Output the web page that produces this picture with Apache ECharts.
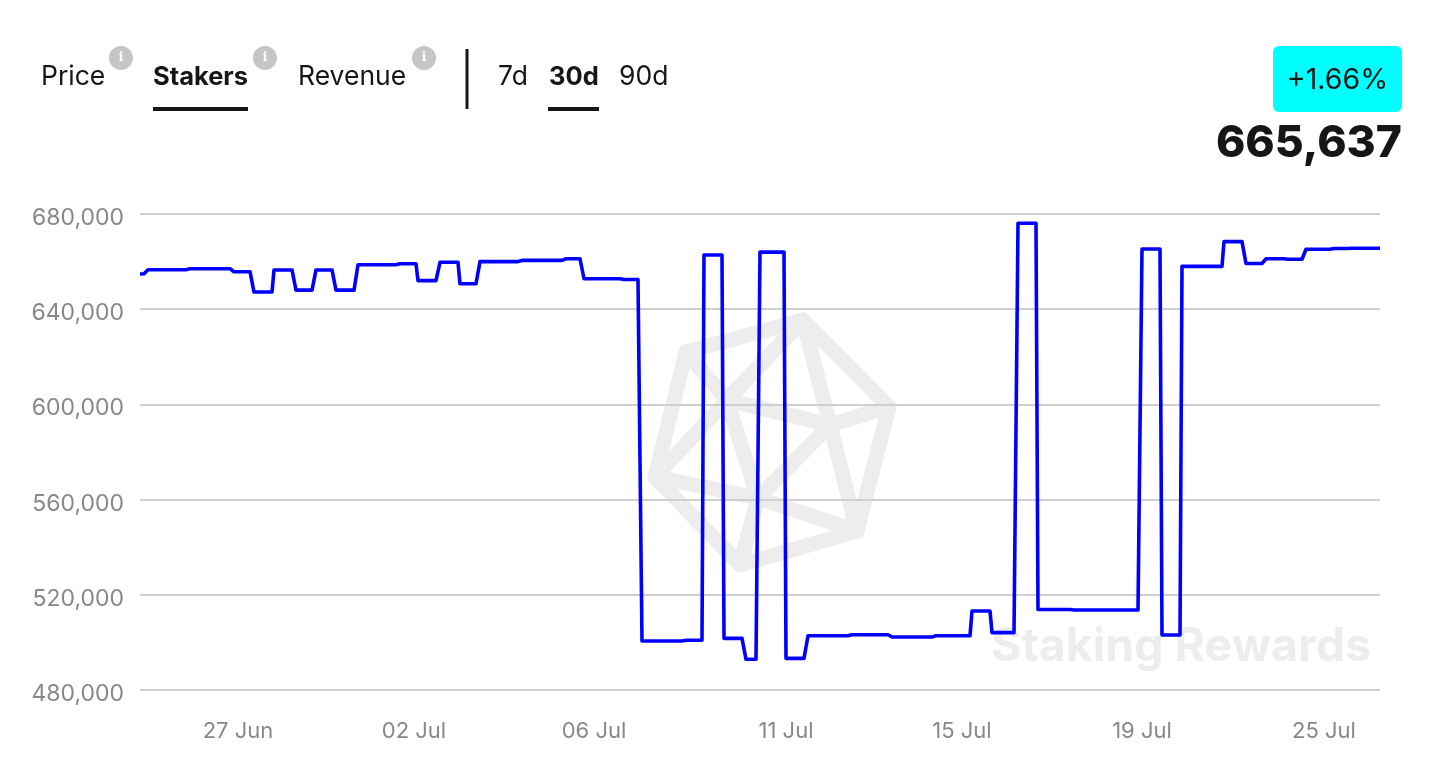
<!DOCTYPE html>
<html>
<head>
<meta charset="utf-8">
<style>html,body{margin:0;padding:0;background:#fff}#c{width:1448px;height:780px}</style>
<script src="https://cdn.jsdelivr.net/npm/echarts@6/dist/echarts.min.js"></script>
</head>
<body>
<div id="c"></div>
<script>
const sampleCount = 621;
const sampleIndex = [0,2,4,23,25,45,47,55,57,66,67,76,78,86,88,96,98,107,109,128,130,138,139,148,150,159,160,168,170,189,191,211,213,220,222,240,242,249,251,271,273,281,282,291,292,301,303,308,310,322,323,332,334,354,356,374,376,396,398,415,416,425,426,437,439,448,449,465,467,499,501,510,511,520,521,541,542,551,553,561,563,572,574,581,583,595,597,604,606,620];
const stakers = [654800,654900,656600,656600,657000,657000,655750,655750,647200,647200,656500,656500,648000,648000,656500,656500,648000,648000,658700,658700,659100,659100,652000,652000,659700,659700,650700,650700,660000,660000,660500,660500,661200,661200,652800,652800,652500,652500,500600,500600,500900,500900,662800,662800,501700,501700,492900,492900,664000,664000,493300,493300,502800,502800,503200,503200,502300,502300,502800,502800,513200,513200,504100,504100,676100,676100,513800,513800,513600,513600,665300,665300,503100,503100,658000,658000,668400,668400,659200,659200,661200,661200,661000,661000,665200,665200,665500,665500,665637,665637];
const tickLabels = ['27 Jun','02 Jul','06 Jul','11 Jul','15 Jul','19 Jul','25 Jul'];
const tickIndex = [49,137,227,323,411,501,592];
const tabs = ['Price','Stakers','Revenue'];
const ranges = ['7d','30d','90d'];
const changeText = '+1.66%';
const latestText = '665,637';
const watermarkText = 'Staking Rewards';

const categories = Array.from({length: sampleCount}, (_, i) => {
  const k = tickIndex.indexOf(i);
  return k >= 0 ? tickLabels[k] : 's' + i;
});
const INK = '#161616';
const FONT = 'Inter, "Noto Sans", sans-serif';
const txt = (text, x, y, o = {}) => ({
  type: 'text', x, y, z: 10, silent: true,
  style: Object.assign({text, fill: INK, font: '400 26.5px ' + FONT, verticalAlign: 'middle'}, o)
});
const rect = (x, y, width, height, fill, r = 0) => ({
  type: 'rect', z: 10, silent: true, shape: {x, y, width, height, r}, style: {fill}
});
const info = (cx) => [
  {type: 'circle', z: 10, silent: true, shape: {cx, cy: 58, r: 12}, style: {fill: '#c6c6c6'}},
  txt('i', cx, 58, {fill: '#fff', font: '700 13px "DejaVu Serif", serif', align: 'center'})
];
const A=[686,352],B=[803,320],C=[889,407],D=[857,531],E=[740,565],F=[655,477],P=[727,400],Q=[830,425],R=[758,498];
const logoLines = [[A,B,C,D,E,F,A],[A,P],[B,P],[F,P],[P,Q],[B,Q],[C,Q],[D,Q],[Q,R],[D,R],[E,R],[F,R],[P,R]];
const logo = logoLines.map(points => ({
  type: 'polyline', z: -1, silent: true, shape: {points},
  style: {stroke: '#ededed', lineWidth: 15, fill: null, lineJoin: 'round', lineCap: 'round'}
}));

const chart = echarts.init(document.getElementById('c'), null, {renderer: 'canvas'});
chart.setOption({
  animation: false,
  backgroundColor: '#fff',
  grid: {left: 140, right: 68, top: 214, bottom: 90, containLabel: false},
  xAxis: {
    type: 'category', data: categories, boundaryGap: false,
    axisLine: {show: false}, axisTick: {show: false}, splitLine: {show: false},
    axisLabel: {
      interval: (i) => tickIndex.indexOf(i) >= 0,
      color: '#888', fontFamily: FONT, fontSize: 22, margin: 30, hideOverlap: false
    }
  },
  yAxis: {
    type: 'value', min: 480000, max: 680000, interval: 40000,
    axisLine: {show: false}, axisTick: {show: false},
    splitLine: {show: true, lineStyle: {color: '#cfcfcf', width: 2}},
    axisLabel: {
      color: '#888', fontFamily: FONT, fontSize: 23, margin: 16,
      verticalAlign: 'top', lineHeight: 8,
      verticalAlignMinLabel: 'top', verticalAlignMaxLabel: 'top',
      formatter: (v) => v.toLocaleString('en-US')
    }
  },
  series: [{
    type: 'line', name: 'Stakers', smooth: false, symbol: 'none', showSymbol: false,
    data: sampleIndex.map((x, i) => [x, stakers[i]]),
    lineStyle: {color: '#0000ff', width: 3.6, join: 'round'},
    z: 5
  }],
  graphic: [
    ...logo,
    {type: 'text', x: 991, y: 647, z: -1, silent: true,
     style: {text: watermarkText, fill: '#ededed', font: '700 46.5px ' + FONT, verticalAlign: 'middle'}},
    txt(tabs[0], 41, 77),
    txt(tabs[1], 153, 77, {font: '700 25.5px ' + FONT}),
    txt(tabs[2], 298, 77),
    ...info(121), ...info(265), ...info(424),
    rect(153, 107, 95, 4, INK),
    rect(465.5, 49, 3, 60, INK),
    txt(ranges[0], 498, 77),
    txt(ranges[1], 549, 77, {font: '700 25.5px ' + FONT}),
    txt(ranges[2], 619, 77),
    rect(548, 107, 51, 4, INK),
    rect(1273, 46, 129, 66, '#00ffff', 6),
    txt(changeText, 1337.5, 80, {align: 'center', font: '400 28.5px ' + FONT}),
    txt(latestText, 1402, 144, {align: 'right', font: '800 44.5px ' + FONT})
  ]
});
</script>
</body>
</html>
